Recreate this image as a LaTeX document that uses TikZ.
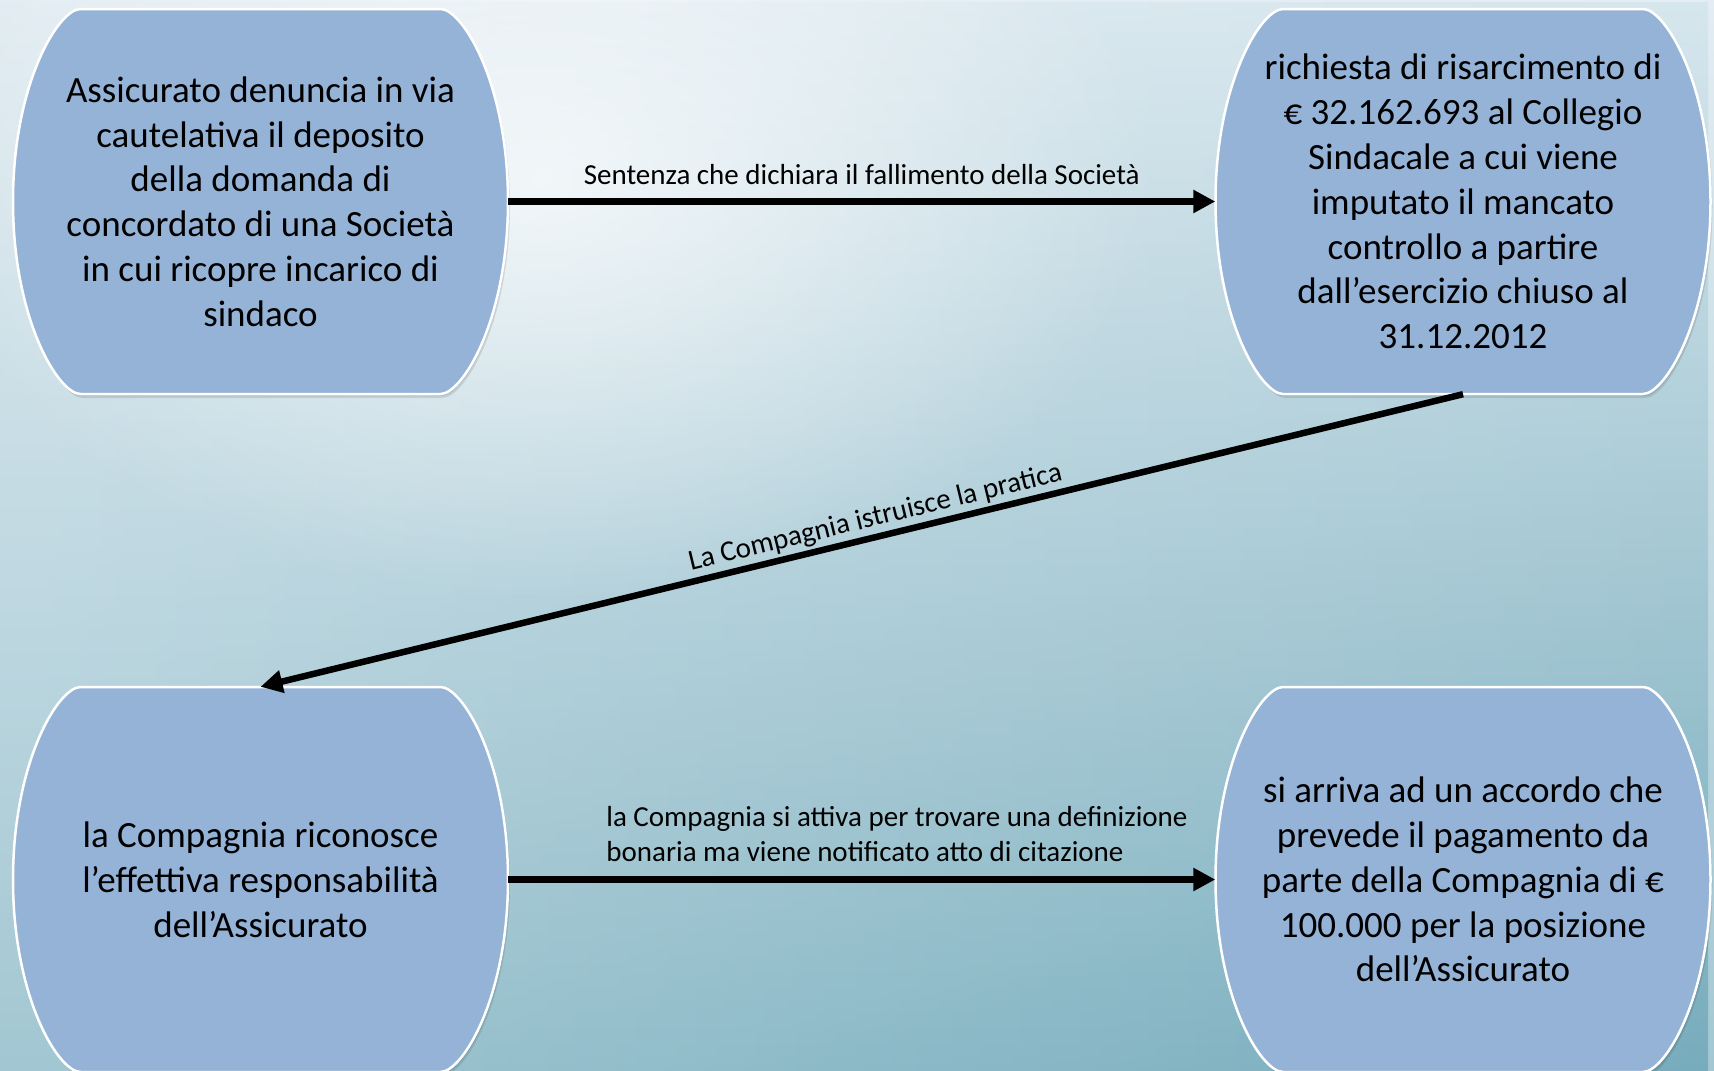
\documentclass[tikz,border=0pt]{standalone}
\usepackage{fontspec}
\setmainfont{Carlito}
\usetikzlibrary{arrows.meta,calc,fadings}
\definecolor{boxfill}{HTML}{95B3D7}
\definecolor{lt}{HTML}{E3EDF3}
\definecolor{lm}{HTML}{E6F0F4}
\definecolor{lb}{HTML}{A3C8D3}
\definecolor{rt}{HTML}{D6E6ED}
\definecolor{rm}{HTML}{B0D0DA}
\definecolor{rb}{HTML}{77ACBC}
\tikzfading[name=fadeR, left color=transparent!100, right color=transparent!0]
\tikzfading[name=glow, inner color=transparent!0, outer color=transparent!100]
\pgfdeclarelayer{bg}
\pgfsetlayers{bg,main}
\newcommand\blobpath{(-180pt,192.5pt) -- (180pt,192.5pt) .. controls (202pt,192.5pt) and (247.5pt,118pt) .. (247.5pt,0pt) .. controls (247.5pt,-118pt) and (202pt,-192.5pt) .. (180pt,-192.5pt) -- (-180pt,-192.5pt) .. controls (-202pt,-192.5pt) and (-247.5pt,-118pt) .. (-247.5pt,0pt) .. controls (-247.5pt,118pt) and (-202pt,192.5pt) .. (-180pt,192.5pt) -- cycle}
\newcommand\blob[1]{%
  \begin{scope}[shift={(#1.center)}]
    \fill[black, opacity=0.10, shift={(2pt,-4pt)}] \blobpath;
    \fill[black, opacity=0.10, shift={(1pt,-2pt)}] \blobpath;
    \filldraw[fill=boxfill, draw=white, line width=2.5pt] \blobpath;
  \end{scope}}
\tikzset{
  boxnode/.style={minimum width=495pt, minimum height=385pt, inner sep=0pt, align=center, text=black, font=\fontsize{37}{44.8}\selectfont},
  lbl/.style={inner sep=0pt, text=black, font=\fontsize{29}{35}\selectfont},
  arr/.style={line width=6.5pt, black, -{Triangle[length=22pt,width=22pt]}}
}
\begin{document}
\begin{tikzpicture}[x=1pt,y=-1pt]
\useasboundingbox (0,0) rectangle (1714,1071);
\begin{pgfonlayer}{bg}
  \shade[top color=lt, middle color=lm, bottom color=lb] (0,0) rectangle (1714,1071);
  \shade[top color=rt, middle color=rm, bottom color=rb, path fading=fadeR] (0,0) rectangle (1714,1071);
  \fill[white, path fading=glow, opacity=0.7] (540,180) ellipse [x radius=620pt, y radius=420pt];
\end{pgfonlayer}

\node[boxnode] (tl) at (260.5,201.5) {Assicurato denuncia in via\\cautelativa il deposito\\della domanda di\\concordato di una Società\\in cui ricopre incarico di\\sindaco};
\node[boxnode] (tr) at (1463,201.5) {richiesta di risarcimento di\\€ 32.162.693 al Collegio\\Sindacale a cui viene\\imputato il mancato\\controllo a partire\\dall’esercizio chiuso al\\31.12.2012};
\node[boxnode] (bl) at (260.5,879.5) {la Compagnia riconosce\\l’effettiva responsabilità\\dell’Assicurato};
\node[boxnode] (br) at (1463,879.5) {si arriva ad un accordo che\\prevede il pagamento da\\parte della Compagnia di €\\100.000 per la posizione\\dell’Assicurato};

\begin{pgfonlayer}{bg}
  \blob{tl}
  \blob{tr}
  \blob{bl}
  \blob{br}
\end{pgfonlayer}

\draw[arr] (tl.east) -- node[lbl, anchor=base, yshift=17.5pt] (l1) {Sentenza che dichiara il fallimento della Società} (tr.west);
\draw[arr] (tr.south) -- coordinate[pos=0.485] (m2) (bl.north);
\node[lbl, rotate=13.65, anchor=base] (l2) at ($(m2)+(-2.6pt,10.7pt)$) {La Compagnia istruisce la pratica};
\draw[arr] (bl.east) -- (br.west);
\node[lbl, align=left, anchor=base west] (l3) at ($(bl.east)+(98pt,18pt)$) {la Compagnia si attiva per trovare una definizione\\bonaria ma viene notificato atto di citazione};
\end{tikzpicture}
\end{document}
